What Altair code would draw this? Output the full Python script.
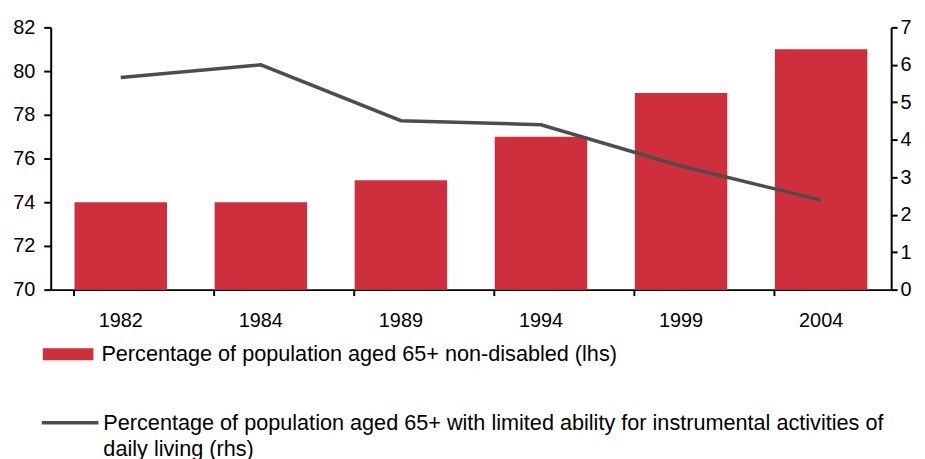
import altair as alt
import pandas as pd

# ---- data ----
years = ["1982", "1984", "1989", "1994", "1999", "2004"]
non_disabled = [74, 74, 75, 77, 79, 81]            # lhs, %
limited_iadl = [5.66, 6.0, 4.51, 4.4, 3.3, 2.39]   # rhs, %
left_ticks = [70, 72, 74, 76, 78, 80, 82]
right_ticks = [0, 1, 2, 3, 4, 5, 6, 7]
bar_label = "Percentage of population aged 65+ non-disabled (lhs)"
line_label = ("Percentage of population aged 65+ with limited ability for "
              "instrumental activities of daily living (rhs)")

RED = "#cf2e3c"
GRAY = "#4d4d4d"
FONT = "Liberation Sans"

df = pd.DataFrame({
    "year": years,
    "nd": non_disabled,
    "lim": limited_iadl,
    "bs": [bar_label] * len(years),
    "ls": [line_label] * len(years),
})

x_enc = alt.X(
    "year:N", sort=years, title=None,
    scale=alt.Scale(paddingInner=0.34, paddingOuter=0.17),
    axis=alt.Axis(labelAngle=0, bandPosition=0, tickSize=6, labelPadding=15,
                  labelFontSize=20),
)

bars = alt.Chart(df).mark_bar().encode(
    x=x_enc,
    y=alt.Y("nd:Q", title=None,
            scale=alt.Scale(domain=[70, 82], zero=False, nice=False),
            axis=alt.Axis(orient="left", values=left_ticks, tickSize=7,
                          labelPadding=9, labelFontSize=20)),
    y2=alt.datum(70),
    fill=alt.Fill("bs:N", scale=alt.Scale(domain=[bar_label], range=[RED]),
                  legend=alt.Legend(
                      orient="none", legendX=-8, legendY=303.5, title=None,
                      padding=0,
                      symbolType="M-1,-0.235L1,-0.235L1,0.235L-1,0.235Z",
                      symbolSize=2601, symbolStrokeWidth=0, symbolOpacity=1,
                      labelFont=FONT, labelFontSize=21.8, labelColor="#000000",
                      labelOffset=8, labelLimit=0)),
)

line = alt.Chart(df).mark_line(strokeWidth=3.5).encode(
    x=x_enc,
    y=alt.Y("lim:Q", title=None,
            scale=alt.Scale(domain=[0, 7], nice=False),
            axis=alt.Axis(orient="right", values=right_ticks, tickSize=6,
                          labelPadding=3, labelFontSize=20)),
    stroke=alt.Stroke("ls:N", scale=alt.Scale(domain=[line_label], range=[GRAY]),
                      legend=alt.Legend(
                          orient="none", legendX=-11, legendY=367.5, title=None,
                          padding=0,
                          symbolType="M-1,0L1,0",
                          symbolSize=3249, symbolStrokeWidth=3.5,
                          labelFont=FONT, labelFontSize=21.8, labelColor="#000000",
                          labelOffset=3, labelLimit=0,
                          labelExpr="split(replace(datum.label, 'of daily', 'of|daily'), '|')")),
)

chart = alt.layer(bars, line).resolve_scale(
    y="independent"
).properties(
    width=846, height=264,
    padding={"left": 43, "top": 18, "right": 26, "bottom": 169},
    autosize=alt.AutoSizeParams(type="none"),
).configure(
    style={"guide-label": {"lineHeight": 26}},
).configure_view(
    stroke=None
).configure_axis(
    grid=False, labelFont=FONT, labelColor="#000000",
    domainColor="#000000", tickColor="#000000",
    domainWidth=2, tickWidth=2,
)

chart.save("out.html", embed_options={"renderer": "svg", "actions": False})
